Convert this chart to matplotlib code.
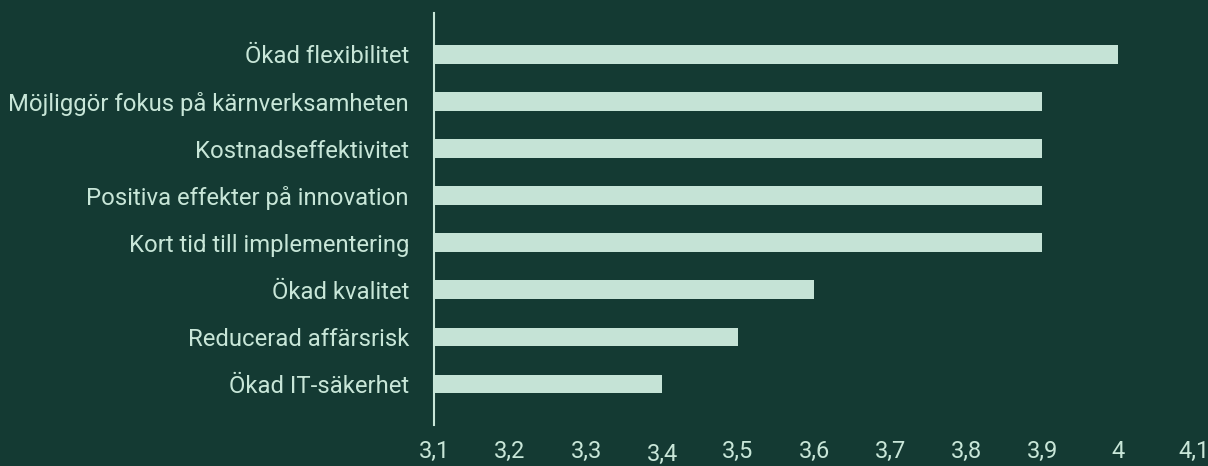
import matplotlib
matplotlib.use("Agg")
import matplotlib.pyplot as plt
from matplotlib.transforms import ScaledTranslation

categories = ["Ökad flexibilitet", "Möjliggör fokus på kärnverksamheten", "Kostnadseffektivitet",
              "Positiva effekter på innovation", "Kort tid till implementering", "Ökad kvalitet",
              "Reducerad affärsrisk", "Ökad IT-säkerhet"]
values = [4.0, 3.9, 3.9, 3.9, 3.9, 3.6, 3.5, 3.4]
xticks = [3.1, 3.2, 3.3, 3.4, 3.5, 3.6, 3.7, 3.8, 3.9, 4.0, 4.1]
xticklabels = ["3,1", "3,2", "3,3", "3,4", "3,5", "3,6", "3,7", "3,8", "3,9", "4", "4,1"]

BG = "#143a33"
BAR = "#c5e3d6"
TXT = "#c8e6d8"

plt.rcParams['font.family'] = ['Roboto', 'DejaVu Sans']

fig = plt.figure(figsize=(12.08, 4.66), dpi=100, facecolor=BG)
ax = fig.add_axes([434/1208, 1-425/466, (1194-434)/1208, (425-13)/466])
ax.set_facecolor(BG)

ypos = list(range(len(categories)))
ax.barh(ypos, [v - 3.1 for v in values], left=3.1, height=0.4, color=BAR)
ax.set_xlim(3.1, 4.1)
ax.set_ylim(7.87, -0.88)
ax.set_yticks(ypos)
ax.set_yticklabels(categories, fontsize=17.2, color=TXT)
ax.set_xticks(xticks)
ax.set_xticklabels(xticklabels, fontsize=17, color=TXT)
ax.tick_params(axis='y', length=0, pad=18)
ax.tick_params(axis='x', length=0, pad=11)
for s in ["top", "right", "bottom"]:
    ax.spines[s].set_visible(False)
ax.spines["left"].set_color(TXT)
ax.spines["left"].set_linewidth(1.5)

lbl = ax.get_xticklabels()[3]
lbl.set_transform(lbl.get_transform() + ScaledTranslation(0, -3/100, fig.dpi_scale_trans))

fig.savefig("out.png", dpi=100, facecolor=BG)
